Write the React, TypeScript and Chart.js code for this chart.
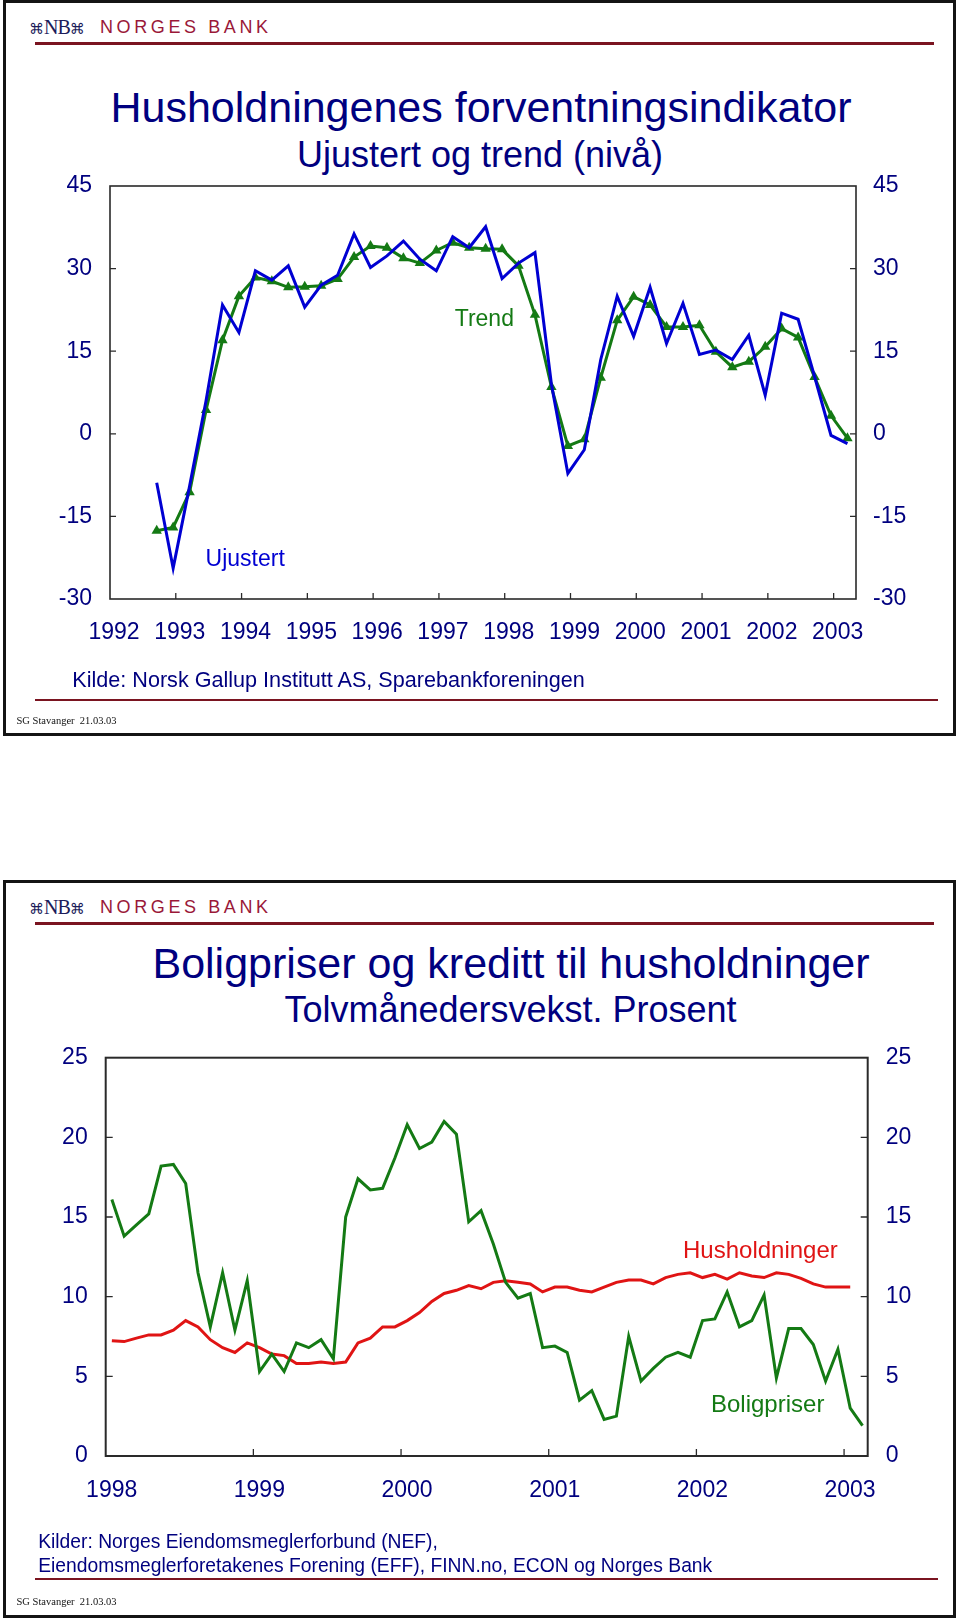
import React, { useEffect, useRef } from "react";
import { Chart, registerables } from "chart.js";
Chart.register(...registerables);

const NAVY = "#00007f";
const BLUE = "#0000d2";
const GREEN = "#147a14";
const RED = "#e01414";
const RULE = "#7a1420";
const LOGO_RED = "#9a1838";
const FONT = '"Liberation Sans", Arial, Helvetica, sans-serif';

// ---------- Chart 1: Husholdningenes forventningsindikator (quarterly, from 1992 K3) ----------
const yearTicks1 = [1992, 1993, 1994, 1995, 1996, 1997, 1998, 1999, 2000, 2001, 2002, 2003];
const startYear1 = 1992;
const startQuarter1 = 3;
const ujustert = [
  -8.9, -24.4, -9.5, 6, 23.4, 18.4, 29.6, 27.9, 30.5, 23, 27, 28.8,
  36.3, 30.2, 32.3, 35, 31.7, 29.6, 35.8, 33.8, 37.6, 28.2, 31, 32.9,
  9, -7.2, -2.9, 13.5, 25, 17.7, 26.6, 16.4, 23.7, 14.4, 15.2, 13.5,
  17.9, 7, 21.9, 20.8, 10.4, -0.3, -1.8,
];
const trend = [
  -17.6, -17.0, -10.6, 4.3, 17, 25, 28.4, 27.7, 26.6, 26.7, 26.9, 28.1,
  32.1, 34.1, 33.8, 31.9, 31, 33.3, 34.7, 33.8, 33.6, 33.5, 30.5, 21.6,
  8.5, -2.2, -1, 10.2, 20.6, 24.9, 23.4, 19.4, 19.4, 19.7, 14.9, 12.1,
  13.1, 15.8, 19.1, 17.5, 10.3, 3.3, -0.8,
];
const yTicks1 = [-30, -15, 0, 15, 30, 45];

// ---------- Chart 2: Boligpriser og kreditt til husholdninger (monthly, from Jan 1998) ----------
const yearTicks2 = [1998, 1999, 2000, 2001, 2002, 2003];
const startYear2 = 1998;
const boligpriser = [
  16.1, 13.8, 14.5, 15.2, 18.2, 18.3, 17.1, 11.5, 8.1, 11.5, 7.9, 11,
  5.3, 6.4, 5.3, 7.1, 6.8, 7.3, 6.1, 15, 17.4, 16.7, 16.8, 18.7,
  20.8, 19.3, 19.7, 21, 20.2, 14.7, 15.4, 13.3, 10.9, 9.9, 10.2, 6.8,
  6.9, 6.5, 3.5, 4.1, 2.3, 2.5, 7.5, 4.7, 5.5, 6.2, 6.5, 6.2,
  8.5, 8.6, 10.3, 8.1, 8.5, 10.1, 4.9, 8, 8, 7, 4.7, 6.7,
  3, 1.9,
];
const husholdninger = [
  7.24, 7.18, 7.4, 7.6, 7.6, 7.9, 8.5, 8.1, 7.3, 6.8, 6.5, 7.1,
  6.8, 6.4, 6.3, 5.8, 5.8, 5.9, 5.8, 5.9, 7.1, 7.4, 8.1, 8.1,
  8.5, 9, 9.7, 10.2, 10.4, 10.7, 10.5, 10.9, 11.0, 10.9, 10.8, 10.3,
  10.6, 10.6, 10.4, 10.3, 10.6, 10.9, 11.05, 11.05, 10.8, 11.2, 11.4, 11.5,
  11.2, 11.4, 11.1, 11.5, 11.3, 11.2, 11.5, 11.4, 11.15, 10.8, 10.6, 10.6,
  10.6,
];
const yTicks2 = [0, 5, 10, 15, 20, 25];

// plotting position of a quarter/month inside its period
const QUARTER_POS = 0.84;
const MONTH_POS = 0.5;

const quarterX = (i: number) => startYear1 + (startQuarter1 - 1 + i + QUARTER_POS) / 4;
const monthX = (i: number) => startYear2 + (i + MONTH_POS) / 12;

function framePlugin(tickLen: number, lineW: number) {
  return {
    id: "frame",
    afterDatasetsDraw(chart: any) {
      const { ctx, chartArea } = chart;
      const { left, right, top, bottom } = chartArea;
      ctx.save();
      ctx.strokeStyle = "#2a2a2a";
      ctx.lineWidth = lineW;
      ctx.strokeRect(left, top, right - left, bottom - top);
      ctx.lineWidth = 1.3;
      const x = chart.scales.x;
      x.ticks.forEach((t: any) => {
        const px = x.getPixelForValue(t.value);
        if (px - left < 3 || right - px < 3) return;
        ctx.beginPath();
        ctx.moveTo(px, bottom);
        ctx.lineTo(px, bottom - tickLen);
        ctx.stroke();
      });
      const y = chart.scales.y;
      y.ticks.forEach((t: any) => {
        const py = y.getPixelForValue(t.value);
        if (py - top < 3 || bottom - py < 3) return;
        ctx.beginPath();
        ctx.moveTo(left, py);
        ctx.lineTo(left + tickLen, py);
        ctx.moveTo(right, py);
        ctx.lineTo(right - tickLen, py);
        ctx.stroke();
      });
      ctx.restore();
    },
  };
}

function axisCommon(ticks: number[], size: number, pad: number, labelOffset = 0) {
  return {
    afterBuildTicks: (s: any) => {
      s.ticks = ticks.map((v) => ({ value: v }));
    },
    ticks: {
      color: NAVY,
      font: { family: FONT, size },
      padding: pad,
      labelOffset,
      autoSkip: false,
      maxRotation: 0,
      callback: (v: any) => String(v),
    },
    grid: { display: false, drawTicks: false },
    border: { display: false },
  };
}

function makeConfig1(): any {
  return {
    type: "line",
    data: {
      datasets: [
        {
          label: "Ujustert",
          data: ujustert.map((v, i) => ({ x: quarterX(i), y: v })),
          borderColor: BLUE,
          borderWidth: 3,
          pointRadius: 0,
          tension: 0,
          borderJoinStyle: "miter",
        },
        {
          label: "Trend",
          data: trend.map((v, i) => ({ x: quarterX(i), y: v })),
          borderColor: GREEN,
          backgroundColor: GREEN,
          borderWidth: 3,
          pointStyle: "triangle",
          pointRadius: 6,
          pointBorderWidth: 0,
          pointBackgroundColor: GREEN,
          tension: 0,
        },
      ],
    },
    options: {
      animation: false,
      responsive: false,
      devicePixelRatio: 1,
      layout: { padding: { left: 50, right: 44, top: 186, bottom: 91 } },
      plugins: { legend: { display: false }, tooltip: { enabled: false } },
      scales: {
        x: {
          type: "linear",
          position: "bottom",
          min: 1992,
          max: 2003.34,
          ...axisCommon(yearTicks1, 23, 20, 4),
          afterFit: (s: any) => {
            s.height = 50;
          },
        },
        y: {
          type: "linear",
          position: "left",
          min: -30,
          max: 45,
          ...axisCommon(yTicks1, 23, 18),
          afterFit: (s: any) => {
            s.width = 60;
          },
        },
        y2: {
          type: "linear",
          position: "right",
          min: -30,
          max: 45,
          ...axisCommon(yTicks1, 23, 17),
          afterFit: (s: any) => {
            s.width = 60;
          },
        },
      },
    },
    plugins: [framePlugin(6, 1.6)],
  };
}

function makeConfig2(): any {
  return {
    type: "line",
    data: {
      datasets: [
        {
          label: "Boligpriser",
          data: boligpriser.map((v, i) => ({ x: monthX(i), y: v })),
          borderColor: GREEN,
          borderWidth: 3,
          pointRadius: 0,
          tension: 0,
        },
        {
          label: "Husholdninger",
          data: husholdninger.map((v, i) => ({ x: monthX(i), y: v })),
          borderColor: RED,
          borderWidth: 3,
          pointRadius: 0,
          tension: 0,
        },
      ],
    },
    options: {
      animation: false,
      responsive: false,
      devicePixelRatio: 1,
      layout: { padding: { left: 45.7, right: 32.3, top: 177.7, bottom: 114 } },
      plugins: { legend: { display: false }, tooltip: { enabled: false } },
      scales: {
        x: {
          type: "linear",
          position: "bottom",
          min: 1998,
          max: 2003.16,
          ...axisCommon(yearTicks2, 23, 21, 6),
          afterFit: (s: any) => {
            s.height = 50;
          },
        },
        y: {
          type: "linear",
          position: "left",
          min: 0,
          max: 25,
          ...axisCommon(yTicks2, 23, 18),
          afterFit: (s: any) => {
            s.width = 60;
          },
        },
        y2: {
          type: "linear",
          position: "right",
          min: 0,
          max: 25,
          ...axisCommon(yTicks2, 23, 18),
          afterFit: (s: any) => {
            s.width = 60;
          },
        },
      },
    },
    plugins: [framePlugin(7, 2)],
  };
}

function ChartCanvas({ make, top }: { make: () => any; top: number }) {
  const ref = useRef<HTMLCanvasElement>(null);
  useEffect(() => {
    const chart = new Chart(ref.current as HTMLCanvasElement, make());
    return () => chart.destroy();
  }, []);
  return (
    <canvas
      ref={ref}
      width={960}
      height={740}
      style={{ position: "absolute", left: 0, top, width: 960, height: 740 }}
    />
  );
}

function Txt({
  x,
  cy,
  size,
  color,
  children,
  center,
  family,
}: {
  x: number;
  cy: number;
  size: number;
  color: string;
  children: React.ReactNode;
  center?: boolean;
  family?: string;
}) {
  const style: React.CSSProperties = {
    position: "absolute",
    top: cy - size * 0.5,
    fontFamily: family || FONT,
    fontSize: size,
    lineHeight: `${size}px`,
    color,
    whiteSpace: "nowrap",
  };
  if (center) {
    style.left = x - 500;
    style.width = 1000;
    style.textAlign = "center";
  } else {
    style.left = x;
  }
  return <div style={style}>{children}</div>;
}

function SlideChrome({ top, height }: { top: number; height: number }) {
  return (
    <>
      <div
        style={{
          position: "absolute",
          left: 3,
          top,
          width: 953,
          height,
          border: "3px solid #141414",
          boxSizing: "border-box",
          background: "#fff",
        }}
      />
      <div
        style={{
          position: "absolute",
          left: 29,
          top: top + 17,
          height: 20,
          lineHeight: "20px",
          whiteSpace: "nowrap",
          color: "#1c1c5a",
        }}
      >
        <span style={{ fontFamily: '"DejaVu Sans", sans-serif', fontSize: 15 }}>⌘</span>
        <span style={{ fontFamily: '"Liberation Serif", serif', fontSize: 20, letterSpacing: -1 }}>NB</span>
        <span style={{ fontFamily: '"DejaVu Sans", sans-serif', fontSize: 15 }}>⌘</span>
      </div>
      <div
        style={{
          position: "absolute",
          left: 100,
          top: top + 17,
          fontFamily: FONT,
          fontSize: 18,
          lineHeight: "20px",
          letterSpacing: 3.6,
          color: LOGO_RED,
          whiteSpace: "nowrap",
        }}
      >
        NORGES BANK
      </div>
      <div style={{ position: "absolute", left: 35, top: top + 41.5, width: 899, height: 3, background: RULE }} />
    </>
  );
}

export default function App() {
  const o2 = 880;
  return (
    <div
      style={{
        position: "absolute",
        left: 0,
        top: 0,
        width: 960,
        height: 1620,
        background: "#fff",
        overflow: "hidden",
      }}
    >
      {/* Slide 1 */}
      <SlideChrome top={0} height={736} />
      <Txt x={481} cy={107.5} size={43} color={NAVY} center>
        Husholdningenes forventningsindikator
      </Txt>
      <Txt x={480} cy={155} size={36} color={NAVY} center>
        Ujustert og trend (nivå)
      </Txt>
      <ChartCanvas make={makeConfig1} top={0} />
      <Txt x={454.7} cy={318.3} size={23} color={GREEN}>
        Trend
      </Txt>
      <Txt x={205.6} cy={558} size={23} color={BLUE}>
        Ujustert
      </Txt>
      <Txt x={72.3} cy={680} size={21.6} color={NAVY}>
        Kilde: Norsk Gallup Institutt AS, Sparebankforeningen
      </Txt>
      <div style={{ position: "absolute", left: 35, top: 699, width: 903, height: 2, background: RULE }} />
      <Txt x={16.5} cy={721.5} size={10.5} color="#111" family='"Liberation Serif", "Times New Roman", serif'>
        SG Stavanger&nbsp;&nbsp;21.03.03
      </Txt>

      {/* Slide 2 */}
      <SlideChrome top={o2} height={738} />
      <Txt x={511} cy={963} size={43} color={NAVY} center>
        Boligpriser og kreditt til husholdninger
      </Txt>
      <Txt x={510.5} cy={1009.6} size={36} color={NAVY} center>
        Tolvmånedersvekst. Prosent
      </Txt>
      <ChartCanvas make={makeConfig2} top={o2} />
      <Txt x={683} cy={1250} size={24} color={RED}>
        Husholdninger
      </Txt>
      <Txt x={711} cy={1404} size={24} color={GREEN}>
        Boligpriser
      </Txt>
      <Txt x={38.2} cy={1542} size={19.3} color={NAVY}>
        Kilder: Norges Eiendomsmeglerforbund (NEF),
      </Txt>
      <Txt x={38.2} cy={1565.6} size={19.3} color={NAVY}>
        Eiendomsmeglerforetakenes Forening (EFF), FINN.no, ECON og Norges Bank
      </Txt>
      <div style={{ position: "absolute", left: 35, top: 1578, width: 903, height: 2, background: RULE }} />
      <Txt x={16.5} cy={1602} size={10.5} color="#111" family='"Liberation Serif", "Times New Roman", serif'>
        SG Stavanger&nbsp;&nbsp;21.03.03
      </Txt>
    </div>
  );
}
